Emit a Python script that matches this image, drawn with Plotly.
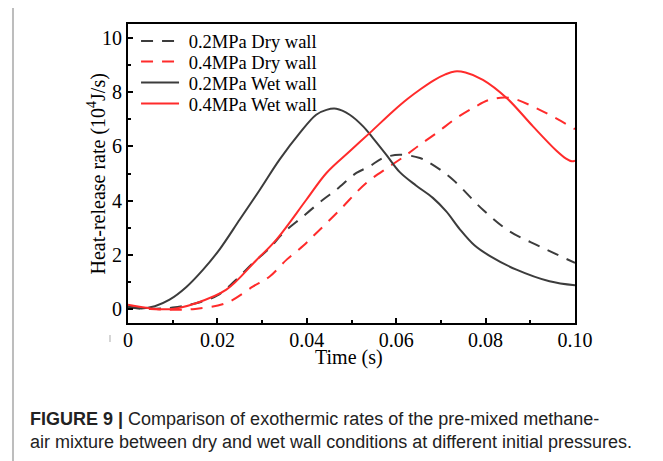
import plotly.graph_objects as go

# ---- data ----
dry02_x = [0, 0.005, 0.01, 0.015, 0.02, 0.024, 0.028, 0.0317, 0.0347, 0.0392, 0.0436, 0.0466,
           0.0511, 0.054, 0.057, 0.0608, 0.0653, 0.0682, 0.0727, 0.0794, 0.0854, 0.0921, 0.1]
dry02_y = [0.05, 0.0, 0.05, 0.2, 0.5, 1.05, 1.7, 2.25, 2.80, 3.42, 4.03, 4.40,
           5.02, 5.26, 5.57, 5.69, 5.57, 5.32, 4.77, 3.66, 2.86, 2.31, 1.70]

dry04_x = [0, 0.005, 0.01, 0.015, 0.022, 0.028, 0.0317, 0.0355, 0.0392, 0.0414, 0.0474,
           0.0533, 0.0585, 0.0623, 0.0653, 0.069, 0.0735, 0.0775, 0.0809, 0.0854, 0.0921, 0.1]
dry04_y = [0.1, 0.0, -0.03, 0.0, 0.22, 0.83, 1.20, 1.82, 2.33, 2.68, 3.66,
           4.65, 5.26, 5.69, 6.06, 6.49, 7.05, 7.45, 7.72, 7.79, 7.35, 6.64]

wet02_x = [0, 0.003, 0.006, 0.0093, 0.013, 0.0168, 0.0205, 0.025, 0.0295, 0.0339, 0.0384,
           0.0421, 0.0444, 0.0466, 0.0496, 0.0526, 0.0548, 0.0578, 0.0608, 0.0645, 0.0682,
           0.0712, 0.0742, 0.0775, 0.081, 0.0869, 0.0943, 0.1]
wet02_y = [0.08, 0.02, 0.1, 0.34, 0.8, 1.45, 2.2, 3.30, 4.40, 5.51, 6.49,
           7.17, 7.35, 7.39, 7.17, 6.74, 6.31, 5.69, 5.05, 4.55, 4.10,
           3.60, 2.95, 2.35, 1.95, 1.45, 1.02, 0.87]

wet04_x = [0, 0.005, 0.01, 0.015, 0.022, 0.0287, 0.0332, 0.0399, 0.0444, 0.0496, 0.0541,
           0.0593, 0.0625, 0.0655, 0.0685, 0.071, 0.0731, 0.0755, 0.0794, 0.0847, 0.0906,
           0.0958, 0.098, 0.0993, 0.1]
wet04_y = [0.15, 0.02, 0.0, 0.2, 0.71, 1.8, 2.56, 4.03, 5.02, 5.82, 6.50,
           7.30, 7.75, 8.12, 8.45, 8.66, 8.77, 8.73, 8.46, 7.79, 6.74,
           5.85, 5.55, 5.45, 5.47]

x_ticks = [0, 0.02, 0.04, 0.06, 0.08, 0.10]
x_tick_labels = ["0", "0.02", "0.04", "0.06", "0.08", "0.10"]
y_ticks = [0, 2, 4, 6, 8, 10]
y_tick_labels = ["0", "2", "4", "6", "8", "10"]

names = ["0.2MPa Dry wall", "0.4MPa Dry wall", "0.2MPa Wet wall", "0.4MPa Wet wall"]

GRAY = "#3c3c3c"
RED = "#ff2b2b"
SERIF = "Liberation Serif"
GAP = "\u00a0"  # small gap between legend sample and its label

fig = go.Figure()
series = [
    (dry02_x, dry02_y, names[0], GRAY, "12px,9px", "legend"),
    (dry04_x, dry04_y, names[1], RED, "12px,9px", "legend2"),
    (wet02_x, wet02_y, names[2], GRAY, "solid", "legend3"),
    (wet04_x, wet04_y, names[3], RED, "solid", "legend4"),
]
for xs, ys, nm, col, dash, lg in series:
    fig.add_trace(go.Scatter(
        x=xs, y=ys, name=GAP + nm, mode="lines", legend=lg,
        line=dict(color=col, width=2, dash=dash, shape="spline", smoothing=1.0),
    ))

axis_common = dict(
    showline=True, linecolor="black", linewidth=2, mirror=True,
    ticks="inside", ticklen=5, tickwidth=1.5, tickcolor="black",
    showgrid=False, zeroline=False,
    tickfont=dict(family=SERIF, size=20, color="black"),
)
fig.update_xaxes(range=[0, 0.1], tickvals=x_ticks, ticktext=x_tick_labels,
                 minor=dict(ticks="inside", ticklen=3, tickwidth=1.5, tickcolor="black", dtick=0.01),
                 ticklabelstandoff=-2, **axis_common)
fig.update_yaxes(range=[-0.52, 10.52], tickvals=y_ticks, ticktext=y_tick_labels,
                 minor=dict(ticks="inside", ticklen=3, tickwidth=1.5, tickcolor="black", dtick=1, tick0=0),
                 ticklabelstandoff=0, **axis_common)

# the page body adds an 8px offset, so the margins are reduced by 8px
legend_rows_y = [0.9415, 0.8729, 0.8027, 0.7324]
legend_common = dict(x=0.018, xanchor="left", yanchor="middle",
                     bgcolor="rgba(0,0,0,0)", borderwidth=0,
                     font=dict(family=SERIF, size=18.5, color="black"),
                     itemwidth=38)
fig.update_layout(
    width=663, height=461,
    margin=dict(l=120, r=96, t=16, b=146, pad=0),
    paper_bgcolor="white", plot_bgcolor="white",
    showlegend=True,
    legend=dict(y=legend_rows_y[0], **legend_common),
    legend2=dict(y=legend_rows_y[1], **legend_common),
    legend3=dict(y=legend_rows_y[2], **legend_common),
    legend4=dict(y=legend_rows_y[3], **legend_common),
)

# outer light-gray frame
fig.add_shape(type="rect", xref="paper", yref="paper",
              x0=-0.2573, x1=1.189, y0=-0.62, y1=1.060,
              line=dict(color="#bdbdbd", width=2), layer="below")
# small stray mark left of the x-axis origin label
fig.add_shape(type="line", xref="paper", yref="paper",
              x0=-0.0403, x1=-0.0403, y0=-0.040, y1=-0.0635,
              line=dict(color="#c8c8c8", width=1.5))

# axis titles
fig.add_annotation(xref="paper", yref="paper", x=-0.0694, y=0.5,
                   text="Heat-release rate (10<sup>4</sup>J/s)", textangle=-90,
                   showarrow=False, xanchor="center", yanchor="middle",
                   font=dict(family=SERIF, size=20, color="black"))
fig.add_annotation(xref="paper", yref="paper", x=0.494, y=-0.117,
                   text="Time (s)", showarrow=False,
                   xanchor="center", yanchor="middle",
                   font=dict(family=SERIF, size=20, color="black"))

# caption
fig.add_annotation(xref="paper", yref="paper", x=-0.2237, y=-0.358,
                   text="<b>FIGURE 9 |</b> Comparison of exothermic rates of the pre-mixed methane-<br>"
                        "air mixture between dry and wet wall conditions at different initial pressures.",
                   showarrow=False, xanchor="left", yanchor="middle", align="left",
                   font=dict(family="Liberation Sans", size=18, color="#222222"))

fig.write_html("out.html")
